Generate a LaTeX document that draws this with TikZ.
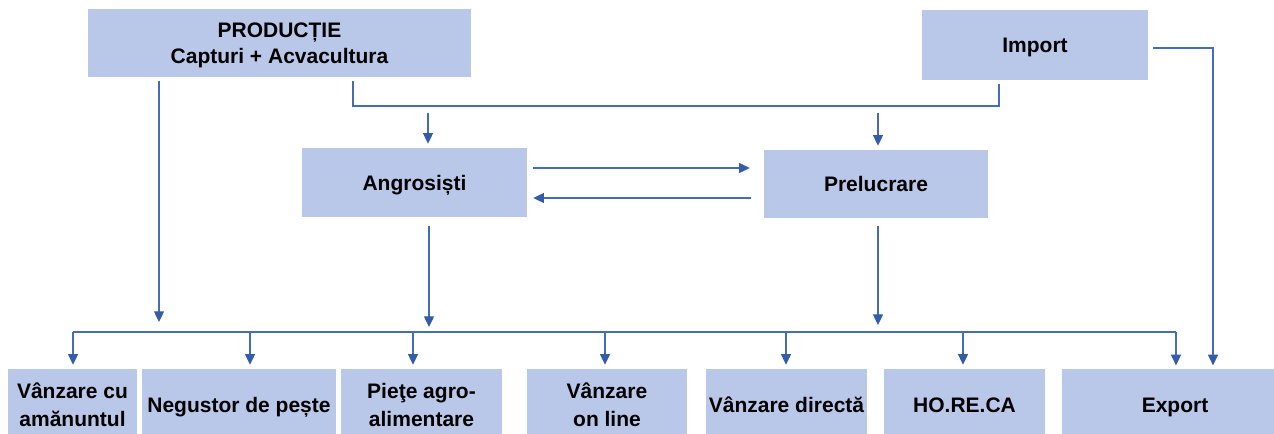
\documentclass[tikz,border=0pt]{standalone}
\usepackage{fontspec}
\setmainfont{Liberation Sans}
\usetikzlibrary{arrows.meta}
\definecolor{boxfill}{RGB}{185,199,233}
\definecolor{lineblue}{RGB}{68,108,184}
\definecolor{headblue}{RGB}{52,92,168}
\begin{document}
\begin{tikzpicture}[x=0.75pt,y=-0.75pt,
  box/.style={fill=boxfill, draw=none, inner sep=0pt, align=center,
    font=\bfseries\fontsize{15.75}{21}\selectfont,
    text height=11.28pt, text depth=0pt},
  twoline/.style={text height=32.28pt, text depth=0pt},
  conn/.style={draw=lineblue, line width=1pt},
  arr/.style={conn, -{Triangle[length=8pt,width=7.5pt,fill=headblue,color=headblue]}}
]
\useasboundingbox (0,0) rectangle (1274,434);

% top boxes
\node[box, twoline, font=\bfseries\fontsize{15.75}{19.5}\selectfont, text height=31.14pt, minimum width=287.25pt, minimum height=51pt] (prod) at (279.5,43) {PRODUCȚIE\\Capturi + Acvacultura};
\node[box, minimum width=169.5pt, minimum height=52.5pt] (imp) at (1035,45) {Import};
% middle boxes
\node[box, minimum width=168.75pt, minimum height=51.75pt] (angro) at (414.5,182.5) {Angrosiști};
\node[box, minimum width=168pt, minimum height=51pt] (prel) at (876,184) {Prelucrare};
% bottom boxes
\tikzset{bot/.style={box, minimum height=54pt}}
\node[bot, twoline, minimum width=96.75pt] (b1) at (72.5,405) {Vânzare cu\\amănuntul};
\node[bot, minimum width=145.5pt] (b2) at (239,405) {Negustor de pește};
\node[bot, twoline, minimum width=120.75pt] (b3) at (421.5,405) {Pieţe agro-\\alimentare};
\node[bot, twoline, minimum width=120pt] (b4) at (607,405) {Vânzare\\on line};
\node[bot, minimum width=120.75pt] (b5) at (786.5,405) {Vânzare directă};
\node[bot, minimum width=120.75pt] (b6) at (964.5,405) {HO.RE.CA};
\node[bot, minimum width=169.5pt] (b7) at (1175,405) {Export};

% production + import to angrosisti / prelucrare
\coordinate (j1) at (353,106);
\coordinate (j2) at (999,106);
\draw[conn] ([yshift=-3pt]prod.south -| j1) -- (j1) -- (j2) -- ([yshift=-3pt]imp.south -| j2);
\coordinate (a1) at (428,113);
\coordinate (a2) at (878,113);
\draw[arr, shorten >=3pt] (a1) -- (a1 |- angro.north);
\draw[arr, shorten >=3pt] (a2) -- (a2 |- prel.north);

% angrosisti <-> prelucrare
\coordinate (h1) at (0,168);
\coordinate (h2) at (0,198);
\draw[arr, shorten <=4.5pt, shorten >=10.5pt] (angro.east |- h1) -- (prel.west |- h1);
\draw[arr, shorten <=9.75pt, shorten >=4.5pt] (prel.west |- h2) -- (angro.east |- h2);

% arrows into the bus
\coordinate (p1) at (159,322);
\coordinate (p2) at (429,327);
\coordinate (p3) at (878,325);
\draw[arr] ([yshift=-3pt]prod.south -| p1) -- (p1);
\draw[arr] ([yshift=-6.75pt]angro.south -| p2) -- (p2);
\draw[arr] ([yshift=-6pt]prel.south -| p3) -- (p3);

% bus
\coordinate (busL) at (73,332);
\coordinate (busR) at (1176,332);
\draw[conn] (busL) -- (busR);
\coordinate (d2) at (250,332);
\coordinate (d3) at (413,332);
\coordinate (d4) at (605,332);
\coordinate (d5) at (786,332);
\coordinate (d6) at (963,332);
\draw[arr, shorten >=3pt] (busL) -- (busL |- b1.north);
\draw[arr, shorten >=3pt] (d2) -- (d2 |- b2.north);
\draw[arr, shorten >=3pt] (d3) -- (d3 |- b3.north);
\draw[arr, shorten >=3pt] (d4) -- (d4 |- b4.north);
\draw[arr, shorten >=3pt] (d5) -- (d5 |- b5.north);
\draw[arr, shorten >=3pt] (d6) -- (d6 |- b6.north);
\draw[arr, shorten >=2.5pt] (busR) -- (busR |- b7.north);

% import to export
\coordinate (e1) at (1213,48);
\draw[arr, shorten >=2.5pt] ([xshift=3.75pt]imp.east |- e1) -- (e1) -- (e1 |- b7.north);
\end{tikzpicture}
\end{document}
